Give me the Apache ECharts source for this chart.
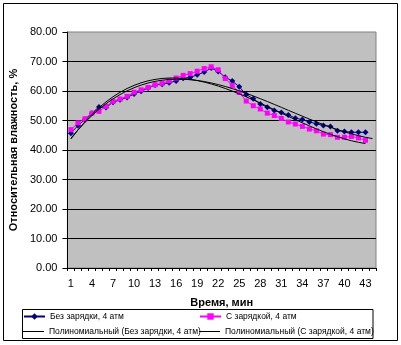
<!DOCTYPE html>
<html>
<head>
<meta charset="utf-8">
<script src="https://cdn.jsdelivr.net/npm/echarts@6/dist/echarts.min.js"></script>
<style>
  html, body { margin: 0; padding: 0; background: #fff; }
  #chart { width: 401px; height: 345px; }
</style>
</head>
<body>
<div id="chart"></div>
<script>
// Time axis categories, minutes (1..44; the last slot carries only the trend line)
const minutes = [];
for (let m = 1; m <= 44; m++) minutes.push(String(m));

// Relative humidity, %, without charging, 4 atm
const withoutCharge = [
  45.7, 48.3, 50.3, 52.5, 54.6, 54.4, 56.2, 57.0, 57.8, 59.0,
  59.9, 61.0, 62.0, 62.3, 62.8, 63.4, 64.3, 64.6, 65.5, 66.4,
  67.8, 66.6, 64.7, 63.4, 61.4, 58.8, 57.4, 55.6, 54.5, 53.4,
  52.7, 51.9, 50.8, 50.3, 49.5, 48.9, 48.3, 48.0, 46.5, 46.3,
  46.0, 46.0, 46.0
];

// Relative humidity, %, with charging, 4 atm
const withCharge = [
  46.9, 49.2, 50.6, 52.5, 53.1, 54.8, 56.5, 57.3, 58.2, 59.6,
  60.4, 61.2, 62.1, 62.6, 63.5, 64.4, 65.3, 65.9, 66.7, 67.6,
  68.2, 67.2, 64.2, 61.9, 59.5, 56.6, 55.0, 53.9, 52.5, 51.7,
  50.7, 49.5, 48.8, 48.0, 47.1, 46.5, 45.4, 45.2, 44.3, 44.3,
  44.6, 44.1, 43.3
];

const seriesNames = [
  'Без зарядки, 4 атм',
  'С зарядкой, 4 атм',
  'Полиномиальный (Без зарядки, 4 атм)',
  'Полиномиальный (С зарядкой, 4 атм)'
];

const yTicks = { min: 0, max: 80, step: 10 };
const TREND_ORDER = 3;

// Least-squares polynomial fit over x = 1..n, returns coefficients c0..cd
function polyFit(values, degree) {
  const n = degree + 1;
  const A = [];
  for (let i = 0; i < n; i++) { A.push(new Array(n + 1).fill(0)); }
  values.forEach((y, k) => {
    const x = k + 1;
    for (let i = 0; i < n; i++) {
      for (let j = 0; j < n; j++) A[i][j] += Math.pow(x, i + j);
      A[i][n] += y * Math.pow(x, i);
    }
  });
  for (let c = 0; c < n; c++) {
    let p = c;
    for (let r = c + 1; r < n; r++) if (Math.abs(A[r][c]) > Math.abs(A[p][c])) p = r;
    [A[c], A[p]] = [A[p], A[c]];
    for (let r = 0; r < n; r++) {
      if (r === c) continue;
      const f = A[r][c] / A[c][c];
      for (let k = c; k <= n; k++) A[r][k] -= f * A[c][k];
    }
  }
  return A.map((row, i) => row[n] / row[i]);
}
function trendValues(values, degree, count) {
  const c = polyFit(values, degree);
  const out = [];
  for (let x = 1; x <= count; x++) {
    let y = 0;
    for (let i = 0; i < c.length; i++) y += c[i] * Math.pow(x, i);
    out.push(+y.toFixed(3));
  }
  return out;
}

const FONT = 'Liberation Sans, Arial, sans-serif';
const chart = echarts.init(document.getElementById('chart'), null, { renderer: 'canvas' });

function legendAt(name, left, top, plainLine) {
  return {
    data: [plainLine ? { name: name, icon: 'rect' } : name],
    left: left, top: top, padding: 0,
    itemWidth: 21, itemHeight: plainLine ? 1 : 8, itemGap: 0,
    textStyle: { fontFamily: FONT, fontSize: 8.5, color: '#000' },
    selectedMode: false
  };
}

chart.setOption({
  animation: false,
  backgroundColor: '#fff',
  textStyle: { fontFamily: FONT },
  grid: {
    left: 63, top: 32, right: 25, bottom: 77,
    show: true, backgroundColor: '#C0C0C0', borderColor: '#808080', borderWidth: 1
  },
  graphic: [
    { type: 'rect', shape: { x: 3.5, y: 3.5, width: 394, height: 337 },
      style: { fill: null, stroke: '#000', lineWidth: 1 }, z: -1 },
    { type: 'rect', shape: { x: 22.5, y: 309.5, width: 350.5, height: 29 },
      style: { fill: '#fff', stroke: '#000', lineWidth: 1 }, z: -1 }
  ],
  legend: [
    legendAt(seriesNames[0], 23, 312, false),
    legendAt(seriesNames[1], 199, 312, false),
    legendAt(seriesNames[2], 23, 327, true),
    legendAt(seriesNames[3], 199, 327, true)
  ],
  xAxis: {
    type: 'category',
    data: minutes,
    boundaryGap: true,
    name: 'Время, мин',
    nameLocation: 'middle',
    nameGap: 29,
    nameTextStyle: { fontFamily: FONT, fontSize: 11, fontWeight: 'bold', color: '#000' },
    axisLine: { lineStyle: { color: '#000', width: 1 } },
    axisTick: { show: true, interval: 0, length: 3, lineStyle: { color: '#000' } },
    axisLabel: { interval: 2, margin: 10, fontSize: 11, color: '#000', fontFamily: FONT },
    splitLine: { show: false }
  },
  yAxis: {
    type: 'value',
    min: yTicks.min, max: yTicks.max, interval: yTicks.step,
    name: 'Относительная влажность, %',
    nameLocation: 'middle',
    nameGap: 38,
    nameTextStyle: { fontFamily: FONT, fontSize: 11, fontWeight: 'bold', color: '#000' },
    axisLine: { show: true, lineStyle: { color: '#000', width: 1 } },
    axisTick: { show: true, length: 5, lineStyle: { color: '#000' } },
    axisLabel: { margin: 10, fontSize: 11, color: '#000', fontFamily: FONT,
                 formatter: v => v.toFixed(2) },
    splitLine: { show: true, showMaxLine: false, lineStyle: { color: '#000', width: 1 } }
  },
  series: [
    {
      name: seriesNames[0], type: 'line', data: withoutCharge,
      symbol: 'diamond', symbolSize: 6, showSymbol: true, showAllSymbol: true,
      lineStyle: { color: '#000080', width: 1 },
      itemStyle: { color: '#000080' }, z: 2
    },
    {
      name: seriesNames[1], type: 'line', data: withCharge,
      symbol: 'rect', symbolSize: 5, showSymbol: true, showAllSymbol: true,
      lineStyle: { color: '#FF00FF', width: 1 },
      itemStyle: { color: '#FF00FF' }, z: 3
    },
    {
      name: seriesNames[2], type: 'line',
      data: trendValues(withoutCharge, TREND_ORDER, 44),
      symbol: 'none', lineStyle: { color: '#000', width: 1 },
      itemStyle: { color: '#000' }, z: 4
    },
    {
      name: seriesNames[3], type: 'line',
      data: trendValues(withCharge, TREND_ORDER, 43),
      symbol: 'none', lineStyle: { color: '#000', width: 1 },
      itemStyle: { color: '#000' }, z: 4
    }
  ]
});
</script>
</body>
</html>
